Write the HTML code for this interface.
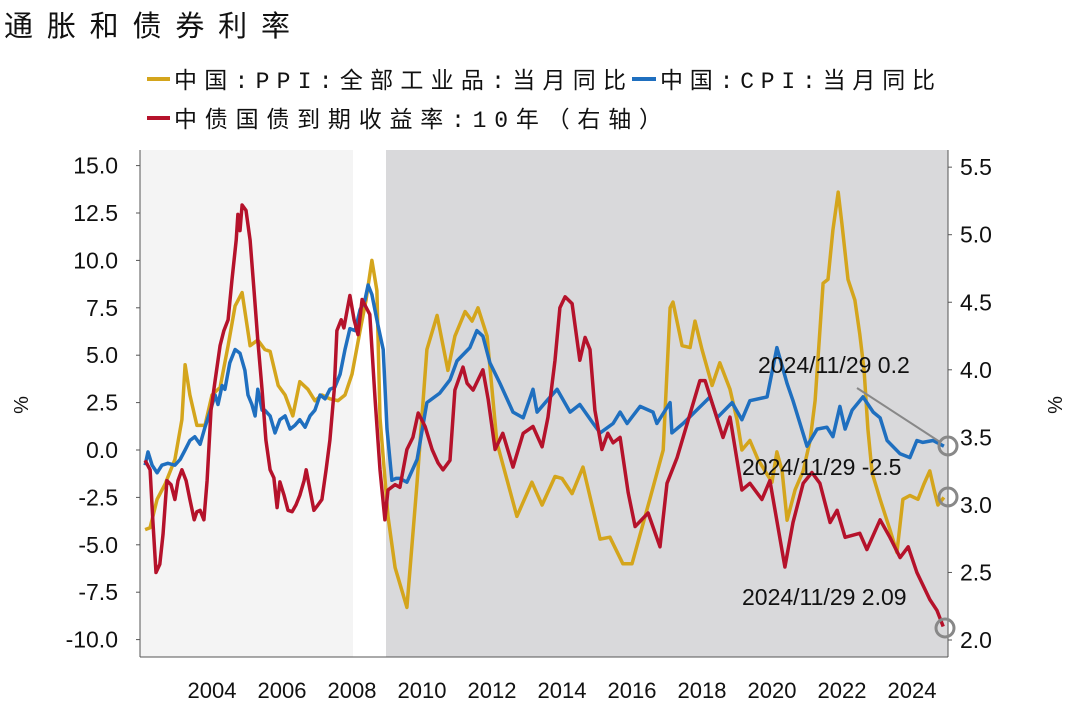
<!DOCTYPE html>
<html><head><meta charset="utf-8">
<style>
body{margin:0;background:#fff;width:1080px;height:703px;overflow:hidden;}
svg{display:block;font-family:"Liberation Sans","Noto Sans CJK SC",sans-serif;}
.cjk{font-family:"Liberation Mono","Noto Sans CJK SC","WenQuanYi Zen Hei",monospace;}
</style></head>
<body>
<svg id="chart" width="1080" height="703" viewBox="0 0 1080 703">
  <text x="4" y="36" font-size="29" fill="#111" class="cjk" textLength="286" lengthAdjust="spacing">通胀和债券利率</text>
  <g>
    <line x1="147" y1="79" x2="170" y2="79" stroke="#d4a51c" stroke-width="4"/>
    <text x="174" y="88" font-size="23" fill="#111" class="cjk" textLength="452" lengthAdjust="spacing">中国:PPI:全部工业品:当月同比</text>
    <line x1="632" y1="79" x2="656" y2="79" stroke="#1f6fbf" stroke-width="4"/>
    <text x="660" y="88" font-size="23" fill="#111" class="cjk" textLength="275" lengthAdjust="spacing">中国:CPI:当月同比</text>
    <line x1="147" y1="118" x2="170" y2="118" stroke="#b5122b" stroke-width="4"/>
    <text x="174" y="127" font-size="23" fill="#111" class="cjk" textLength="488" lengthAdjust="spacing">中债国债到期收益率:10年（右轴）</text>
  </g>
  <rect x="140" y="150" width="213" height="507" fill="#f4f4f4"/>
  <rect x="386" y="150" width="562" height="507" fill="#d9d9db"/>
  <g id="axes"></g>
  <g id="series"></g>
  <g>
    <line x1="857" y1="388" x2="940" y2="442" stroke="#888" stroke-width="2"/>
    <circle cx="948" cy="446" r="9" fill="none" stroke="#888" stroke-width="3"/>
    <circle cx="948" cy="497" r="9" fill="none" stroke="#888" stroke-width="3"/>
    <circle cx="945" cy="628" r="9" fill="none" stroke="#888" stroke-width="3"/>
    <text x="758" y="373" font-size="23" fill="#111">2024/11/29 0.2</text>
    <text x="742" y="475" font-size="23" fill="#111">2024/11/29 -2.5</text>
    <text x="742" y="605" font-size="23" fill="#111">2024/11/29 2.09</text>
  </g>
  <text transform="translate(28,405) rotate(-90)" font-size="20" text-anchor="middle" fill="#111">%</text>
  <text transform="translate(1062,405) rotate(-90)" font-size="20" text-anchor="middle" fill="#111">%</text>
</svg>
<script>
const leftTicks=[15.0,12.5,10.0,7.5,5.0,2.5,0.0,-2.5,-5.0,-7.5,-10.0];
const rightTicks=[5.5,5.0,4.5,4.0,3.5,3.0,2.5,2.0];
const yearTicks=[2004,2006,2008,2010,2012,2014,2016,2018,2020,2022,2024];

const ppiT=[2002.09,2002.23,2002.43,2002.66,2002.94,2003.14,2003.23,2003.37,2003.57,2003.8,2004.0,2004.23,2004.46,2004.66,2004.86,2005.09,2005.31,2005.51,2005.66,2005.89,2006.09,2006.31,2006.51,2006.74,2006.94,2007.14,2007.37,2007.6,2007.8,2008.0,2008.23,2008.4,2008.57,2008.71,2008.8,2009.03,2009.23,2009.57,2009.86,2010.14,2010.43,2010.74,2010.94,2011.23,2011.43,2011.6,2011.86,2012.14,2012.71,2013.14,2013.43,2013.8,2014.0,2014.29,2014.6,2015.09,2015.37,2015.74,2016.0,2016.51,2016.89,2017.09,2017.17,2017.43,2017.66,2017.8,2018.0,2018.29,2018.51,2018.8,2019.0,2019.14,2019.37,2019.6,2019.8,2020.0,2020.14,2020.29,2020.43,2020.66,2020.89,2021.09,2021.23,2021.37,2021.46,2021.6,2021.74,2021.89,2022.0,2022.17,2022.37,2022.51,2022.63,2022.74,2022.86,2023.09,2023.37,2023.57,2023.74,2023.94,2024.17,2024.34,2024.51,2024.63,2024.74,2024.91];
const ppiV=[-4.2,-4.1,-2.6,-1.8,-0.5,1.6,4.5,2.9,1.3,1.3,2.9,3.3,5.5,7.6,8.3,5.5,5.8,5.3,5.2,3.4,2.9,1.8,3.6,3.2,2.6,2.9,2.7,2.6,2.9,4.0,6.3,7.9,10.0,8.4,1.7,-3.5,-6.2,-8.3,-1.7,5.3,7.1,4.2,6.0,7.3,6.8,7.5,6.0,0.4,-3.5,-1.7,-2.9,-1.4,-1.5,-2.3,-0.9,-4.7,-4.6,-6.0,-6.0,-2.6,0.0,7.5,7.8,5.5,5.4,6.8,5.3,3.4,4.6,3.2,1.6,0.0,0.5,-0.5,-1.1,-1.7,-0.1,-1.1,-3.7,-2.1,-1.1,0.5,2.6,6.3,8.8,9.0,11.6,13.6,11.9,9.0,7.9,6.1,4.2,1.1,-1.2,-2.6,-4.2,-5.4,-2.6,-2.4,-2.6,-1.8,-1.1,-2.1,-2.9,-2.5];

const cpiT=[2002.09,2002.17,2002.29,2002.43,2002.57,2002.74,2002.94,2003.09,2003.23,2003.37,2003.51,2003.66,2003.8,2003.94,2004.09,2004.17,2004.29,2004.37,2004.51,2004.66,2004.8,2004.94,2005.03,2005.14,2005.23,2005.31,2005.43,2005.51,2005.66,2005.8,2005.94,2006.09,2006.23,2006.37,2006.51,2006.66,2006.8,2006.94,2007.09,2007.23,2007.37,2007.51,2007.66,2007.8,2007.94,2008.09,2008.23,2008.37,2008.46,2008.57,2008.74,2008.89,2009.0,2009.14,2009.26,2009.37,2009.57,2009.86,2010.14,2010.51,2010.8,2011.0,2011.37,2011.57,2011.74,2011.94,2012.23,2012.6,2012.89,2013.17,2013.29,2013.57,2013.86,2014.23,2014.51,2014.89,2015.09,2015.46,2015.66,2015.86,2016.23,2016.6,2016.71,2017.09,2017.14,2017.46,2018.23,2018.43,2018.86,2019.14,2019.37,2019.86,2020.14,2020.43,2020.6,2021.0,2021.29,2021.57,2021.74,2021.94,2022.09,2022.29,2022.6,2022.89,2023.09,2023.29,2023.66,2023.94,2024.14,2024.31,2024.6,2024.91];
const cpiV=[-0.8,-0.1,-0.8,-1.2,-0.8,-0.7,-0.8,-0.5,0.0,0.5,0.7,0.3,1.2,2.0,2.9,2.4,3.4,3.2,4.6,5.3,5.1,4.2,2.9,2.4,1.8,3.2,2.1,2.1,1.8,0.9,1.6,1.8,1.1,1.3,1.6,1.2,1.8,2.1,2.9,2.7,3.2,3.3,4.0,5.3,6.4,6.3,7.4,7.9,8.7,8.2,6.6,5.3,1.1,-1.6,-1.5,-1.5,-1.7,-0.5,2.5,3.0,3.7,4.7,5.4,6.3,6.0,4.6,3.5,2.0,1.7,3.2,2.0,2.6,3.2,2.0,2.4,1.4,0.9,1.4,2.0,1.4,2.3,2.0,1.4,2.5,0.9,1.4,2.8,1.7,2.5,1.6,2.6,2.8,5.4,3.5,2.6,0.2,1.1,1.2,0.7,2.3,1.1,2.1,2.8,2.0,1.7,0.5,-0.2,-0.4,0.5,0.4,0.5,0.2];

const ylT=[2002.09,2002.23,2002.31,2002.4,2002.51,2002.6,2002.71,2002.83,2002.94,2003.03,2003.14,2003.26,2003.37,2003.49,2003.57,2003.66,2003.77,2003.86,2003.97,2004.09,2004.23,2004.34,2004.46,2004.57,2004.69,2004.74,2004.8,2004.86,2004.97,2005.09,2005.2,2005.31,2005.43,2005.54,2005.66,2005.77,2005.86,2005.94,2006.06,2006.17,2006.29,2006.4,2006.51,2006.63,2006.69,2006.8,2006.91,2007.03,2007.14,2007.26,2007.37,2007.49,2007.57,2007.69,2007.77,2007.86,2007.94,2008.06,2008.17,2008.29,2008.37,2008.51,2008.66,2008.8,2008.94,2009.03,2009.23,2009.37,2009.57,2009.74,2009.89,2010.09,2010.29,2010.46,2010.6,2010.8,2010.94,2011.17,2011.29,2011.46,2011.74,2011.89,2012.09,2012.31,2012.6,2012.89,2013.17,2013.43,2013.6,2013.8,2013.94,2014.09,2014.29,2014.51,2014.66,2014.8,2014.94,2015.14,2015.31,2015.46,2015.66,2015.89,2016.09,2016.46,2016.8,2017.0,2017.29,2017.94,2018.09,2018.6,2018.8,2019.14,2019.37,2019.71,2019.94,2020.37,2020.6,2020.89,2021.14,2021.37,2021.66,2021.86,2022.09,2022.51,2022.71,2023.09,2023.37,2023.66,2023.89,2024.14,2024.51,2024.71,2024.89];
const ylV=[3.33,3.26,2.89,2.50,2.56,2.78,3.18,3.15,3.04,3.18,3.26,3.18,3.04,2.89,2.95,2.96,2.89,3.18,3.70,3.92,4.18,4.29,4.37,4.66,4.96,5.15,5.03,5.22,5.18,4.96,4.59,4.22,3.85,3.48,3.26,3.20,2.98,3.17,3.07,2.96,2.95,3.00,3.07,3.18,3.26,3.11,2.96,3.00,3.04,3.26,3.48,3.85,4.29,4.37,4.31,4.44,4.55,4.37,4.26,4.52,4.48,4.41,3.78,3.26,2.89,3.11,3.15,3.13,3.41,3.50,3.68,3.58,3.41,3.31,3.26,3.33,3.85,4.02,3.90,3.85,4.00,3.78,3.41,3.53,3.28,3.53,3.58,3.43,3.65,4.07,4.46,4.54,4.49,4.07,4.24,4.15,3.70,3.41,3.53,3.46,3.50,3.09,2.84,2.94,2.69,3.16,3.35,3.92,3.92,3.50,3.65,3.11,3.16,3.04,3.18,2.54,2.87,3.16,3.24,3.16,2.87,2.96,2.76,2.79,2.67,2.89,2.76,2.61,2.69,2.50,2.30,2.22,2.10];

const NS="http://www.w3.org/2000/svg";
const xOf=t=>212+(t-2004)*35;
const yL=v=>450-v*18.96;
const yR=r=>640-(r-2)*135.1;
const axes=document.getElementById('axes');
const ser=document.getElementById('series');
function mk(tag,attrs,parent){const e=document.createElementNS(NS,tag);for(const k in attrs)e.setAttribute(k,attrs[k]);parent.appendChild(e);return e;}

const la=mk('line',{x1:140,y1:150,x2:140,y2:657,stroke:'#555','stroke-width':1},axes);


const ra=mk('line',{x1:948,y1:150,x2:948,y2:657,stroke:'#555','stroke-width':1},axes);


const ba=mk('line',{x1:140,y1:657,x2:948,y2:657,stroke:'#555','stroke-width':1},axes);



leftTicks.forEach(v=>{
  const y=yL(v);
  mk('line',{x1:136,y1:y,x2:140,y2:y,stroke:'#555'},axes);
  const t=mk('text',{x:118,y:y+8,'font-size':23,'text-anchor':'end',fill:'#111'},axes);
  t.textContent=v.toFixed(1);
  
  
});
rightTicks.forEach(r=>{
  const y=yR(r);
  mk('line',{x1:948,y1:y,x2:952,y2:y,stroke:'#555'},axes);
  const t=mk('text',{x:960,y:y+8,'font-size':23,fill:'#111'},axes);
  t.textContent=r.toFixed(1);
  
  
});
yearTicks.forEach(yr=>{
  const x=xOf(yr);
  const t=mk('text',{x:x,y:698,'font-size':22,'text-anchor':'middle',fill:'#111'},axes);
  t.textContent=yr;
  
  
});
function line(T,V,yf,color,name){
  const d=T.map((t,i)=>(i?'L':'M')+xOf(t).toFixed(1)+' '+yf(V[i]).toFixed(1)).join(' ');
  const p=mk('path',{d:d,fill:'none',stroke:color,'stroke-width':3.5,'stroke-linejoin':'round'},ser);
  
  
}
line(ppiT,ppiV,yL,'#d4a51c','ppi-line');
line(cpiT,cpiV,yL,'#1f6fbf','cpi-line');
line(ylT,ylV,yR,'#b5122b','bond-yield-line');
</script>
</body></html>
